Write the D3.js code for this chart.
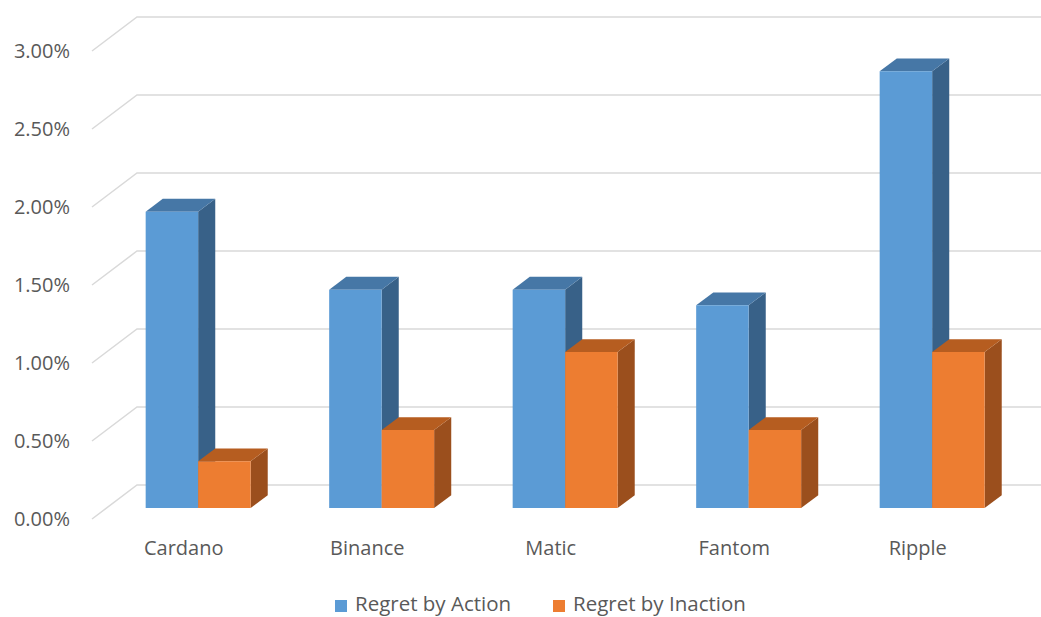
<!DOCTYPE html>
<html>
<head>
<meta charset="utf-8">
<script src="https://cdn.jsdelivr.net/npm/d3@7/dist/d3.min.js"></script>
<style>
  html, body { margin: 0; padding: 0; background: #ffffff; }
  svg { display: block; }
  text { font-family: "Open Sans", sans-serif; fill: #595959; }
</style>
</head>
<body>
<svg id="chart" width="1041" height="617"></svg>
<script>
const categories = ["Cardano", "Binance", "Matic", "Fantom", "Ripple"];
const seriesNames = ["Regret by Action", "Regret by Inaction"];
const regretByAction = [0.019, 0.014, 0.014, 0.013, 0.028];
const regretByInaction = [0.003, 0.005, 0.010, 0.005, 0.010];
const yTicks = [0, 0.005, 0.01, 0.015, 0.02, 0.025, 0.03];
const yTickLabels = ["0.00%", "0.50%", "1.00%", "1.50%", "2.00%", "2.50%", "3.00%"];

const colors = {
  "Regret by Action":   { front: "#5b9bd5", top: "#4677a6", side: "#386188" },
  "Regret by Inaction": { front: "#ed7d31", top: "#b65d20", side: "#9b4f1d" }
};

const svg = d3.select("#chart");
const W = 1041;
const depthDx = 45, depthDy = -34;   // full-depth oblique offset
const z0 = 0.32, z1 = 0.70;          // bar depth slice

const y = d3.scaleLinear().domain([0, 0.03]).range([519, 51]);
const x = d3.scaleBand().domain(categories).range([92, 1009.5])
  .paddingInner(0.428).paddingOuter(0.214);
const xs = d3.scaleBand().domain(seriesNames).range([0, x.bandwidth()]);

const proj = (px, v, z) => [px + z * depthDx, y(v) + z * depthDy];

// gridlines (side wall diagonal + back wall horizontal)
const grid = svg.append("g");
yTicks.forEach(t => {
  const p0 = proj(92, t, 0), p1 = proj(92, t, 1);
  grid.append("polyline")
    .attr("points", [p0, p1, [W, p1[1]]].map(p => p.join(",")).join(" "))
    .attr("fill", "none")
    .attr("stroke", "#d9d9d9")
    .attr("stroke-width", 1.5);
});

// y-axis labels
svg.append("g").selectAll("text").data(yTicks).join("text")
  .attr("x", 70)
  .attr("y", d => y(d))
  .attr("dy", "0.36em")
  .attr("text-anchor", "end")
  .attr("font-size", 20)
  .text((d, i) => yTickLabels[i]);

// bars
const data = [];
categories.forEach((c, i) => {
  data.push({ cat: c, series: seriesNames[0], value: regretByAction[i] });
  data.push({ cat: c, series: seriesNames[1], value: regretByInaction[i] });
});

const bars = svg.append("g");
const pts = arr => arr.map(p => p.join(",")).join(" ");
data.forEach(d => {
  const xl = x(d.cat) + xs(d.series);
  const xr = xl + xs.bandwidth();
  const col = colors[d.series];
  const g = bars.append("g");
  // side face
  g.append("polygon")
    .attr("points", pts([proj(xr, 0, z0), proj(xr, 0, z1), proj(xr, d.value, z1), proj(xr, d.value, z0)]))
    .attr("fill", col.side);
  // top face
  g.append("polygon")
    .attr("points", pts([proj(xl, d.value, z0), proj(xr, d.value, z0), proj(xr, d.value, z1), proj(xl, d.value, z1)]))
    .attr("fill", col.top);
  // front face
  g.append("polygon")
    .attr("points", pts([proj(xl, 0, z0), proj(xr, 0, z0), proj(xr, d.value, z0), proj(xl, d.value, z0)]))
    .attr("fill", col.front);
});

// category labels
svg.append("g").selectAll("text").data(categories).join("text")
  .attr("x", d => x(d) + x.bandwidth() / 2)
  .attr("y", 555)
  .attr("text-anchor", "middle")
  .attr("font-size", 20)
  .text(d => d);

// legend
const legendX = [335, 553];
const legend = svg.append("g");
seriesNames.forEach((s, i) => {
  legend.append("rect")
    .attr("x", legendX[i]).attr("y", 600)
    .attr("width", 12).attr("height", 12)
    .attr("fill", colors[s].front);
  legend.append("text")
    .attr("x", legendX[i] + 20).attr("y", 611)
    .attr("font-size", 20.5)
    .text(s);
});
</script>
</body>
</html>
